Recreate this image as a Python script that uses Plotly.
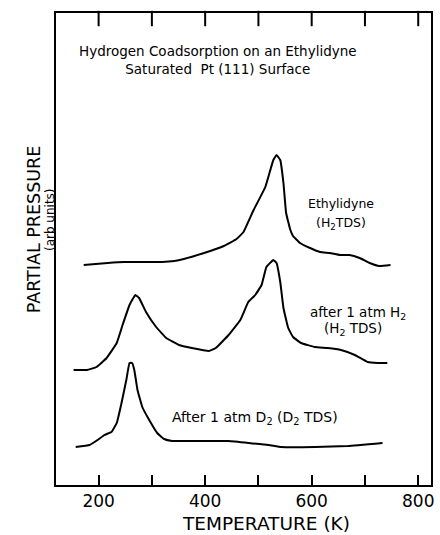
import plotly.graph_objects as go

# Temperature (K) and partial pressure (arb. units, curves offset vertically)
eth_T = [172, 217, 248, 291, 319, 342, 360, 398, 435, 459, 472, 491, 513, 528, 534, 541, 547, 552, 560, 565,
         578, 597, 616, 634, 653, 671, 690, 709, 727, 748]
eth_P = [22.0, 22.2, 22.3, 22.3, 22.3, 22.4, 22.6, 23.2, 23.9, 24.6, 25.3, 27.5, 29.8, 32.5, 33.0, 32.5, 30.2, 27.2, 25.5, 24.9,
         24.2, 23.7, 23.3, 23.2, 23.0, 23.0, 22.7, 22.2, 21.9, 22.0]

h2_T = [153, 178, 196, 215, 234, 245, 258, 269, 276, 289, 308, 327, 351, 375, 407, 420, 444, 466, 481, 494,
        506, 515, 528, 534, 541, 547, 556, 565, 580, 606, 630, 655, 681, 705, 724, 742]
h2_P = [11.5, 11.5, 11.8, 12.7, 14.2, 16.0, 18.0, 19.0, 18.7, 17.3, 15.8, 14.7, 14.0, 13.7, 13.4, 13.7, 15.0, 16.5, 18.3, 19.0,
        20.0, 21.8, 22.5, 22.2, 20.3, 17.7, 15.7, 14.8, 14.2, 13.8, 13.7, 13.5, 13.0, 12.3, 12.2, 12.2]

d2_T = [157, 183, 198, 211, 224, 234, 243, 252, 258, 263, 267, 273, 282, 295, 310, 323, 338, 394, 444, 519,
        543, 606, 668, 733]
d2_P = [3.8, 4.0, 4.5, 5.0, 5.3, 6.2, 8.2, 10.5, 12.2, 12.2, 11.5, 9.5, 7.8, 6.5, 5.2, 4.6, 4.4, 4.4, 4.4, 4.0,
        3.8, 3.8, 3.9, 4.2]

tick_vals = [200, 300, 400, 500, 600, 700, 800]
tick_text = ["200", "", "400", "", "600", "", "800"]

x_range = [120, 824]
y_range = [0, 47.2]

FONT = "DejaVu Sans"
L, R, TOP, BOT = 56, 434, 13, 485
W, H = R - L, BOT - TOP
TOP_TICK_PX = 11
units_per_px = (y_range[1] - y_range[0]) / H

fig = go.Figure()
for T, P in [(eth_T, eth_P), (h2_T, h2_P), (d2_T, d2_P)]:
    fig.add_trace(go.Scatter(x=T, y=P, mode="lines",
                             line=dict(color="black", width=2, shape="spline", smoothing=0.3),
                             showlegend=False, hoverinfo="skip"))

# inward tick marks hanging from the top frame
top_tick_y = y_range[1] - units_per_px * TOP_TICK_PX / 2
fig.add_trace(go.Scatter(x=tick_vals, y=[top_tick_y] * len(tick_vals), mode="markers",
                         marker=dict(symbol="line-ns", size=TOP_TICK_PX, color="black",
                                     line=dict(width=2, color="black")),
                         cliponaxis=False, showlegend=False, hoverinfo="skip"))


def px(x, y):
    return (x - L) / W, (BOT - y) / H


annots = [
    ("Hydrogen Coadsorption on an Ethylidyne<br>Saturated  Pt (111) Surface", 219, 60, 13.5, 0),
    ("Ethylidyne", 343, 203, 12.5, 0),
    ("(H<sub>2</sub>TDS)", 343, 223, 12.5, 0),
    ("after 1 atm H<sub>2</sub>", 360, 313, 13.5, 0),
    ("(H<sub>2</sub> TDS)", 355, 329, 13.5, 0),
    ("After 1 atm D<sub>2</sub> (D<sub>2</sub> TDS)", 257, 418, 14, 0),
    ("PARTIAL PRESSURE", 34, 230, 17.5, -90),
    ("(arb units)", 50, 220, 12, -90),
    ("TEMPERATURE (K)", 268, 523, 18.5, 0),
]
for text, x, y, size, ang in annots:
    ax, ay = px(x, y)
    fig.add_annotation(text=text, x=ax, y=ay, xref="paper", yref="paper",
                       showarrow=False, xanchor="center", yanchor="middle",
                       textangle=ang, font=dict(family=FONT, size=size, color="black"))

fig.update_layout(
    xaxis=dict(range=x_range, tickvals=tick_vals, ticktext=tick_text,
               ticks="inside", ticklen=10, tickwidth=1.5, tickcolor="black",
               showline=True, linecolor="black", linewidth=2, mirror=True,
               showgrid=False, zeroline=False,
               tickfont=dict(family=FONT, size=17, color="black")),
    yaxis=dict(range=y_range, showticklabels=False, ticks="",
               showline=True, linecolor="black", linewidth=2, mirror=True,
               showgrid=False, zeroline=False),
    width=440, height=535, margin=dict(l=L, r=440 - R, t=TOP, b=535 - BOT),
    plot_bgcolor="white", paper_bgcolor="white")

fig.write_html("out.html")
